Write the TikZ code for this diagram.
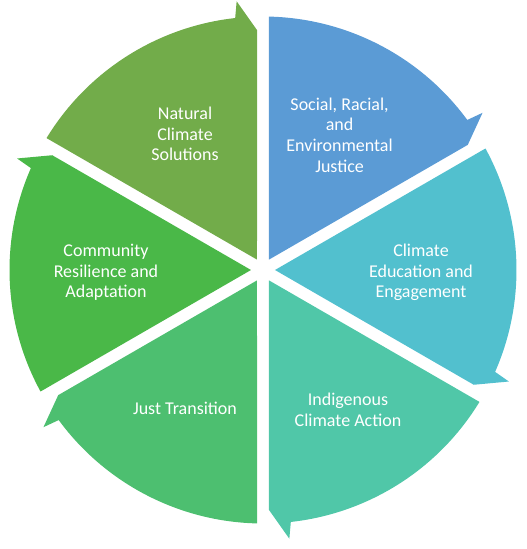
\documentclass[tikz,border=0pt]{standalone}
\usepackage{fontspec}
\setmainfont{Carlito}
\definecolor{cNat}{RGB}{114,172,74}
\definecolor{cSoc}{RGB}{91,155,213}
\definecolor{cEdu}{RGB}{82,192,206}
\definecolor{cInd}{RGB}{80,199,168}
\definecolor{cJus}{RGB}{77,191,112}
\definecolor{cCom}{RGB}{74,184,72}
\tikzset{
  lbl/.style={text=white, align=center, inner sep=0pt,
    font=\fontsize{18pt}{20.7pt}\selectfont}
}
\begin{document}
\begin{tikzpicture}[x=1pt,y=1pt]
\useasboundingbox (-263,-279) rectangle (264,270);
\foreach \e/\c in {90/cNat, 30/cSoc, -30/cEdu, -90/cInd, -150/cJus, 150/cCom} {
  \fill[\c] ({\e+30}:12pt) -- ({\e+60-1.356}:253.5pt)
    arc[start angle={\e+60-1.356}, end angle={\e+6.3}, radius=253.5pt]
    -- ({\e+5.6}:270pt) -- ({\e+1.43}:240pt) -- cycle;
}
\node[lbl] (nat) at (-78,136) {Natural\\Climate\\Solutions};
\node[lbl] (soc) at (76.6,135) {Social, Racial,\\and\\Environmental\\Justice};
\node[lbl] (edu) at (158,-2.5) {Climate\\Education and\\Engagement};
\node[lbl] (ind) at (85,-140) {Indigenous\\Climate Action};
\node[lbl] (jus) at (-78,-138.7) {Just Transition};
\node[lbl] (com) at (-157,-2.5) {Community\\Resilience and\\Adaptation};
\end{tikzpicture}
\end{document}
